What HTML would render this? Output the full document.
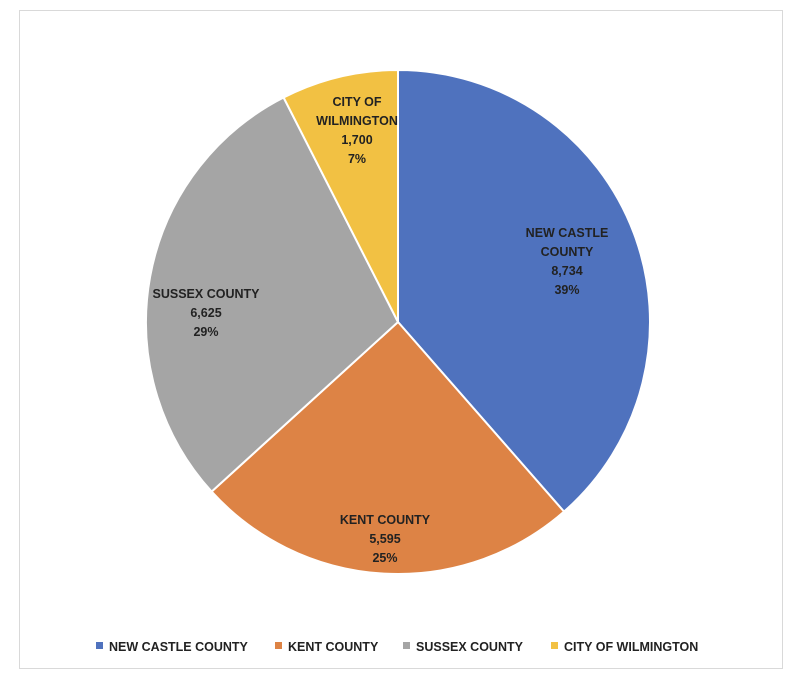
<!DOCTYPE html>
<html><head><style>
body{margin:0;background:#fff;}
svg text{font-family:"Liberation Sans",sans-serif;font-weight:bold;font-size:12.5px;fill:#222;}
</style></head><body>
<svg width="800" height="683" viewBox="0 0 800 683" xmlns="http://www.w3.org/2000/svg">
<rect x="19.5" y="10.5" width="763" height="658" fill="#fff" stroke="#d9d9d9"/>
<g stroke="#fff" stroke-width="2">
<path d="M398,322 L398,70 A252,252 0 0 1 564,511.6 Z" fill="#4f72be"/>
<path d="M398,322 L564,511.6 A252,252 0 0 1 211.6,491.6 Z" fill="#dd8345"/>
<path d="M398,322 L211.6,491.6 A252,252 0 0 1 283.6,97.5 Z" fill="#a5a5a5"/>
<path d="M398,322 L283.6,97.5 A252,252 0 0 1 398,70 Z" fill="#f2c143"/>
</g>
<g text-anchor="middle">
<text x="567" y="237">NEW CASTLE</text><text x="567" y="256">COUNTY</text><text x="567" y="275">8,734</text><text x="567" y="294">39%</text>
<text x="385" y="524">KENT COUNTY</text><text x="385" y="543">5,595</text><text x="385" y="562">25%</text>
<text x="206" y="298">SUSSEX COUNTY</text><text x="206" y="317">6,625</text><text x="206" y="336">29%</text>
<text x="357" y="106">CITY OF</text><text x="357" y="125">WILMINGTON</text><text x="357" y="144">1,700</text><text x="357" y="163">7%</text>
</g>
<rect x="96" y="642" width="7" height="7" fill="#4f72be"/><text x="109" y="651">NEW CASTLE COUNTY</text>
<rect x="275" y="642" width="7" height="7" fill="#dd8345"/><text x="288" y="651">KENT COUNTY</text>
<rect x="403" y="642" width="7" height="7" fill="#a5a5a5"/><text x="416" y="651">SUSSEX COUNTY</text>
<rect x="551" y="642" width="7" height="7" fill="#f2c143"/><text x="564" y="651">CITY OF WILMINGTON</text>
</svg>
</body></html>
